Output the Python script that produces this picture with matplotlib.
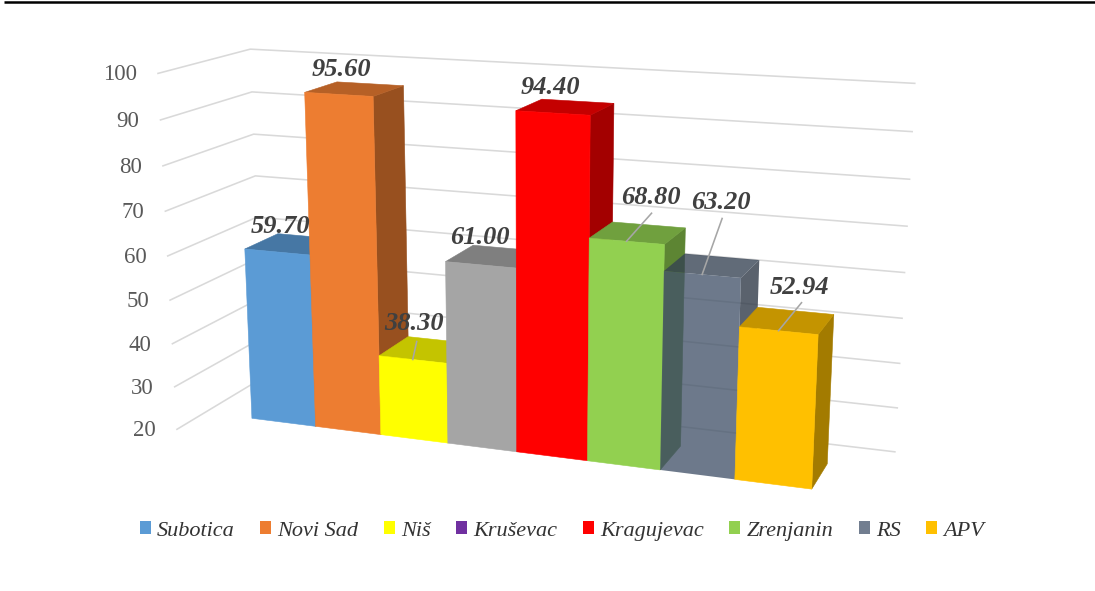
import numpy as np
import matplotlib
matplotlib.use("Agg")
import matplotlib.pyplot as plt
from matplotlib.patches import Patch, Polygon
from matplotlib.colors import to_rgb

plt.rcParams['font.family'] = ['Liberation Serif', 'DejaVu Serif']

# data
cities = ["Subotica", "Novi Sad", "Niš", "Kruševac", "Kragujevac", "Zrenjanin", "RS", "APV"]
values = [59.70, 95.60, 38.30, 61.00, 94.40, 68.80, 63.20, 52.94]
value_labels = ["59.70", "95.60", "38.30", "61.00", "94.40", "68.80", "63.20", "52.94"]
ticks = [100, 90, 80, 70, 60, 50, 40, 30, 20]

# colours: the Kruševac bar is grey but its legend key is purple in the original
bar_colors = ["#5B9BD5", "#ED7D31", "#FFFF00", "#A5A5A5", "#FF0000", "#92D050", "#44546A", "#FFC000"]
key_colors = ["#5B9BD5", "#ED7D31", "#FFFF00", "#7030A0", "#FF0000", "#92D050", "#727E90", "#FFC000"]
bar_alpha = [1, 1, 1, 1, 1, 1, 0.78, 1]

# label offsets (px) from the middle of each bar's top front edge, leader end where there is one
label_offset = [(3, -25), (3, -25), (1, -36), (-1, -27), (-2, -25), (24, -44), (19, -72), (21, -43)]
leader_end = [None, None, (4, -18), None, None, (25, -28), (20, -56), (23, -28)]

# camera for the fake 3d look: (category slot, value, depth) to pixels
CAMERA = np.array([
    [255.37146640512674, 58.87176060786841, -0.32653673569014374, 41.16121697529055],
    [500.4651086966313, 2.571596037850145, -4.3644482770025155, -7.017178276627353],
    [1.0, -0.012621972510702927, -0.0006112757652680682, 0.03309938223654822],
])
FLOOR = 20
WALL_LEFT, WALL_RIGHT = -0.752, 8.757
WALL_BACK, WALL_FRONT = 1.79, -0.796


def project(u, v, d):
    q = CAMERA @ np.array([1, u, v, d])
    return q[0] / q[2], q[1] / q[2]


def shade(color, factor):
    return tuple(c * factor for c in to_rgb(color))


def face(ax, corners, color, alpha, z):
    pts = [project(*c) for c in corners]
    # opaque faces get a hairline of their own colour so no seams show
    lw = 0.4 if alpha == 1 else 0
    ax.add_patch(Polygon(pts, closed=True, facecolor=color, edgecolor=color, linewidth=lw,
                         alpha=alpha, zorder=z))


fig = plt.figure(figsize=(10.95, 5.91), dpi=100)
ax = fig.add_axes([0, 0, 1, 1])
ax.set_xlim(0, 1095)
ax.set_ylim(591, 0)
ax.axis("off")

ax.plot([4, 1095], [2, 2], color="black", linewidth=1.8, solid_capstyle="butt", zorder=1)

# walls
for t in ticks:
    line = [project(WALL_LEFT, t, WALL_FRONT), project(WALL_LEFT, t, WALL_BACK), project(WALL_RIGHT, t, WALL_BACK)]
    ax.plot([p[0] for p in line], [p[1] for p in line], color="#D9D9D9", linewidth=1.15, zorder=1)
    x, y = line[0]
    ax.text(x - 21, y + 1.5, str(t), ha="right", va="center", fontsize=16.5, color="#595959", zorder=2)

# bars, left to right so each one hides the side of the one before
for i, (value, color, alpha) in enumerate(zip(values, bar_colors, bar_alpha)):
    z = 3 + i
    face(ax, [(i + 1, FLOOR, 0), (i + 1, FLOOR, 1), (i + 1, value, 1), (i + 1, value, 0)], shade(color, 0.64), alpha, z)
    face(ax, [(i, value, 0), (i, value, 1), (i + 1, value, 1), (i + 1, value, 0)], shade(color, 0.77), alpha, z)
    face(ax, [(i, FLOOR, 0), (i + 1, FLOOR, 0), (i + 1, value, 0), (i, value, 0)], color, alpha, z)

for i, value in enumerate(values):
    x, y = project(i + 0.5, value, 0)
    if leader_end[i] is not None:
        dx, dy = leader_end[i]
        ax.plot([x, x + dx], [y, y + dy], color="#A6A6A6", linewidth=1.15, zorder=20)
    dx, dy = label_offset[i]
    ax.text(x + dx, y + dy, value_labels[i], ha="center", va="center", fontsize=19,
            fontweight="bold", fontstyle="italic", color="#404040", zorder=21)

handles = [Patch(facecolor=c, edgecolor="none", label=name) for c, name in zip(key_colors, cities)]
ax.legend(handles=handles, ncol=8, frameon=False, loc="center", bbox_to_anchor=(562, 531),
          bbox_transform=ax.transData,
          prop={"style": "italic", "size": 16}, labelcolor="#333333",
          handlelength=0.5, handleheight=0.5, handletextpad=0.27, columnspacing=1.15,
          borderpad=0, borderaxespad=0)

fig.savefig("out.png", dpi=100)
